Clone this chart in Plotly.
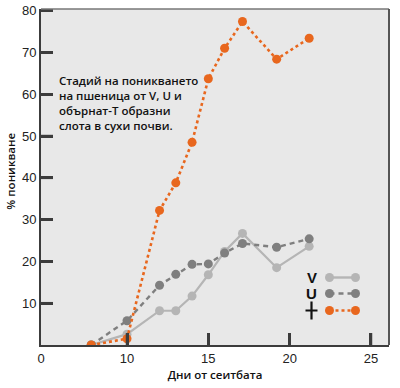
import plotly.graph_objects as go

# ---- data ----
days = [7.8, 10, 12, 13, 14, 15, 16, 17.1, 19.2, 21.2]
v_slot = [0, 2.6, 8.2, 8.2, 11.7, 16.8, 22.4, 26.7, 18.5, 23.6]
u_slot = [0, 5.8, 14.3, 16.9, 19.3, 19.4, 22.0, 24.3, 23.4, 25.4]
t_slot = [0, 1.5, 32.2, 38.8, 48.5, 63.7, 71.0, 77.4, 68.4, 73.4]

x_tick_vals = [10, 15, 20, 25]
x_tick_text = ["10", "15", "20", "25"]
y_tick_vals = [10, 20, 30, 40, 50, 60, 70, 80]

series_names = ["V", "U", "⊥"]

ORANGE = "#e8671e"
LIGHT = "#b5b5b5"
DARK = "#7f7f7f"
BG = "#e8e8e8"
AXIS = "#3c3c3c"

X_MIN, X_MAX = 4.713, 26.107

fig = go.Figure()
fig.add_trace(go.Scatter(x=days, y=v_slot, mode="lines+markers", name=series_names[0],
                         line=dict(color=LIGHT, width=2.2),
                         marker=dict(color=LIGHT, size=9)))
fig.add_trace(go.Scatter(x=days, y=u_slot, mode="lines+markers", name=series_names[1],
                         line=dict(color=DARK, width=2.4, dash="5px,4px"),
                         marker=dict(color=DARK, size=9)))
fig.add_trace(go.Scatter(x=days, y=t_slot, mode="lines+markers", name=series_names[2],
                         line=dict(color=ORANGE, width=2.6, dash="dot"),
                         marker=dict(color=ORANGE, size=9)))

fig.update_layout(
    width=400, height=388,
    margin=dict(l=41, r=11, t=9, b=43, autoexpand=False),
    paper_bgcolor="white", plot_bgcolor=BG,
    showlegend=False,
    font=dict(family="Liberation Sans, Arial, sans-serif", color="#222"),
)
fig.update_xaxes(
    automargin=False,
    range=[X_MIN, X_MAX], tickmode="array",
    tickvals=[X_MIN] + x_tick_vals, ticktext=["0"] + x_tick_text,
    ticks="inside", ticklen=12, tickwidth=2.5, tickcolor=AXIS,
    showgrid=False, zeroline=False,
    showline=True, linecolor=AXIS, linewidth=2, mirror=False,
    tickfont=dict(size=13, color="#222"),
    title=dict(text="Дни от сеитбата", font=dict(family="Open Sans", size=11.5, weight=600, color="#111"),
               standoff=6),
)
fig.update_yaxes(
    automargin=False,
    range=[0, 80.4], tickmode="array", tickvals=y_tick_vals,
    ticks="inside", ticklen=12, tickwidth=2.5, tickcolor=AXIS,
    showgrid=False, zeroline=False,
    showline=True, linecolor=AXIS, linewidth=2,
    tickfont=dict(size=13, color="#222"),
)

# inside tick marks reinforced as shapes at the same tick values
for tv in x_tick_vals:
    fig.add_shape(type="line", xref="x", yref="paper", ysizemode="pixel", yanchor=0,
                  x0=tv, x1=tv, y0=0, y1=12, line=dict(color=AXIS, width=2.5), layer="above")
for tv in y_tick_vals:
    fig.add_shape(type="line", xref="paper", yref="y", xsizemode="pixel", xanchor=0,
                  x0=0, x1=12, y0=tv, y1=tv, line=dict(color=AXIS, width=2.5), layer="above")

# y-axis title
fig.add_annotation(xref="paper", yref="paper", x=-0.0862, y=0.516, xanchor="center", yanchor="middle",
                   textangle=-90, showarrow=False, text="% поникване",
                   font=dict(family="Open Sans", size=11.5, weight=600, color="#111"))

# top/right frame
fig.add_shape(type="line", xref="paper", yref="paper", x0=0, x1=1, y0=1, y1=1,
              line=dict(color="#777", width=1.5))
fig.add_shape(type="line", xref="paper", yref="paper", x0=1, x1=1, y0=0, y1=1,
              line=dict(color="#555", width=2))

# descriptive text
fig.add_annotation(
    xref="paper", yref="paper", x=0.047, y=0.815, xanchor="left", yanchor="top",
    align="left", showarrow=False,
    text="Стадий на поникването<br>на пшеница от V, U и<br>обърнат-T образни<br>слота в сухи почви.",
    font=dict(family="Open Sans", size=11.5, weight=600, color="#111"),
)

# custom legend: label on the left, sample on the right
PH = 336.0
def py(pix):
    return 1 - (pix - 9) / PH

legend_rows = [(series_names[0], LIGHT, "solid", py(277.5)),
               (series_names[1], DARK, "5px,4px", py(293.5)),
               (series_names[2], ORANGE, "dot", py(310.5))]
x_lab = (311.5 - 41) / 348
x_a = (329.5 - 41) / 348
x_b = (355.5 - 41) / 348
for i, (name, col, dash, yy) in enumerate(legend_rows):
    if i < 2:
        fig.add_annotation(xref="paper", yref="paper", x=x_lab, y=yy, showarrow=False,
                           xanchor="center", yanchor="middle",
                           text="<b>%s</b>" % name,
                           font=dict(family="Liberation Sans", size=15, color="#111"))
    else:
        # inverted-T slot symbol drawn as a small cross
        fig.add_shape(type="path", xref="paper", yref="paper", xsizemode="pixel", ysizemode="pixel",
                      xanchor=x_lab, yanchor=yy,
                      path="M 0 9 L 0 -9 M -6 0 L 6 0",
                      line=dict(color="#111", width=2.2))
    fig.add_shape(type="line", xref="paper", yref="paper", x0=x_a, x1=x_b, y0=yy, y1=yy,
                  line=dict(color=col, width=2.4, dash=dash))
    for xx in (x_a, x_b):
        fig.add_shape(type="circle", xref="paper", yref="paper", xsizemode="pixel", ysizemode="pixel",
                      xanchor=xx, yanchor=yy, x0=-4.5, x1=4.5, y0=-4.5, y1=4.5,
                      fillcolor=col, line=dict(width=0))

fig.write_html("out.html", config={"displayModeBar": False},
               post_script="document.body.style.margin='0';document.body.style.overflow='hidden';")
